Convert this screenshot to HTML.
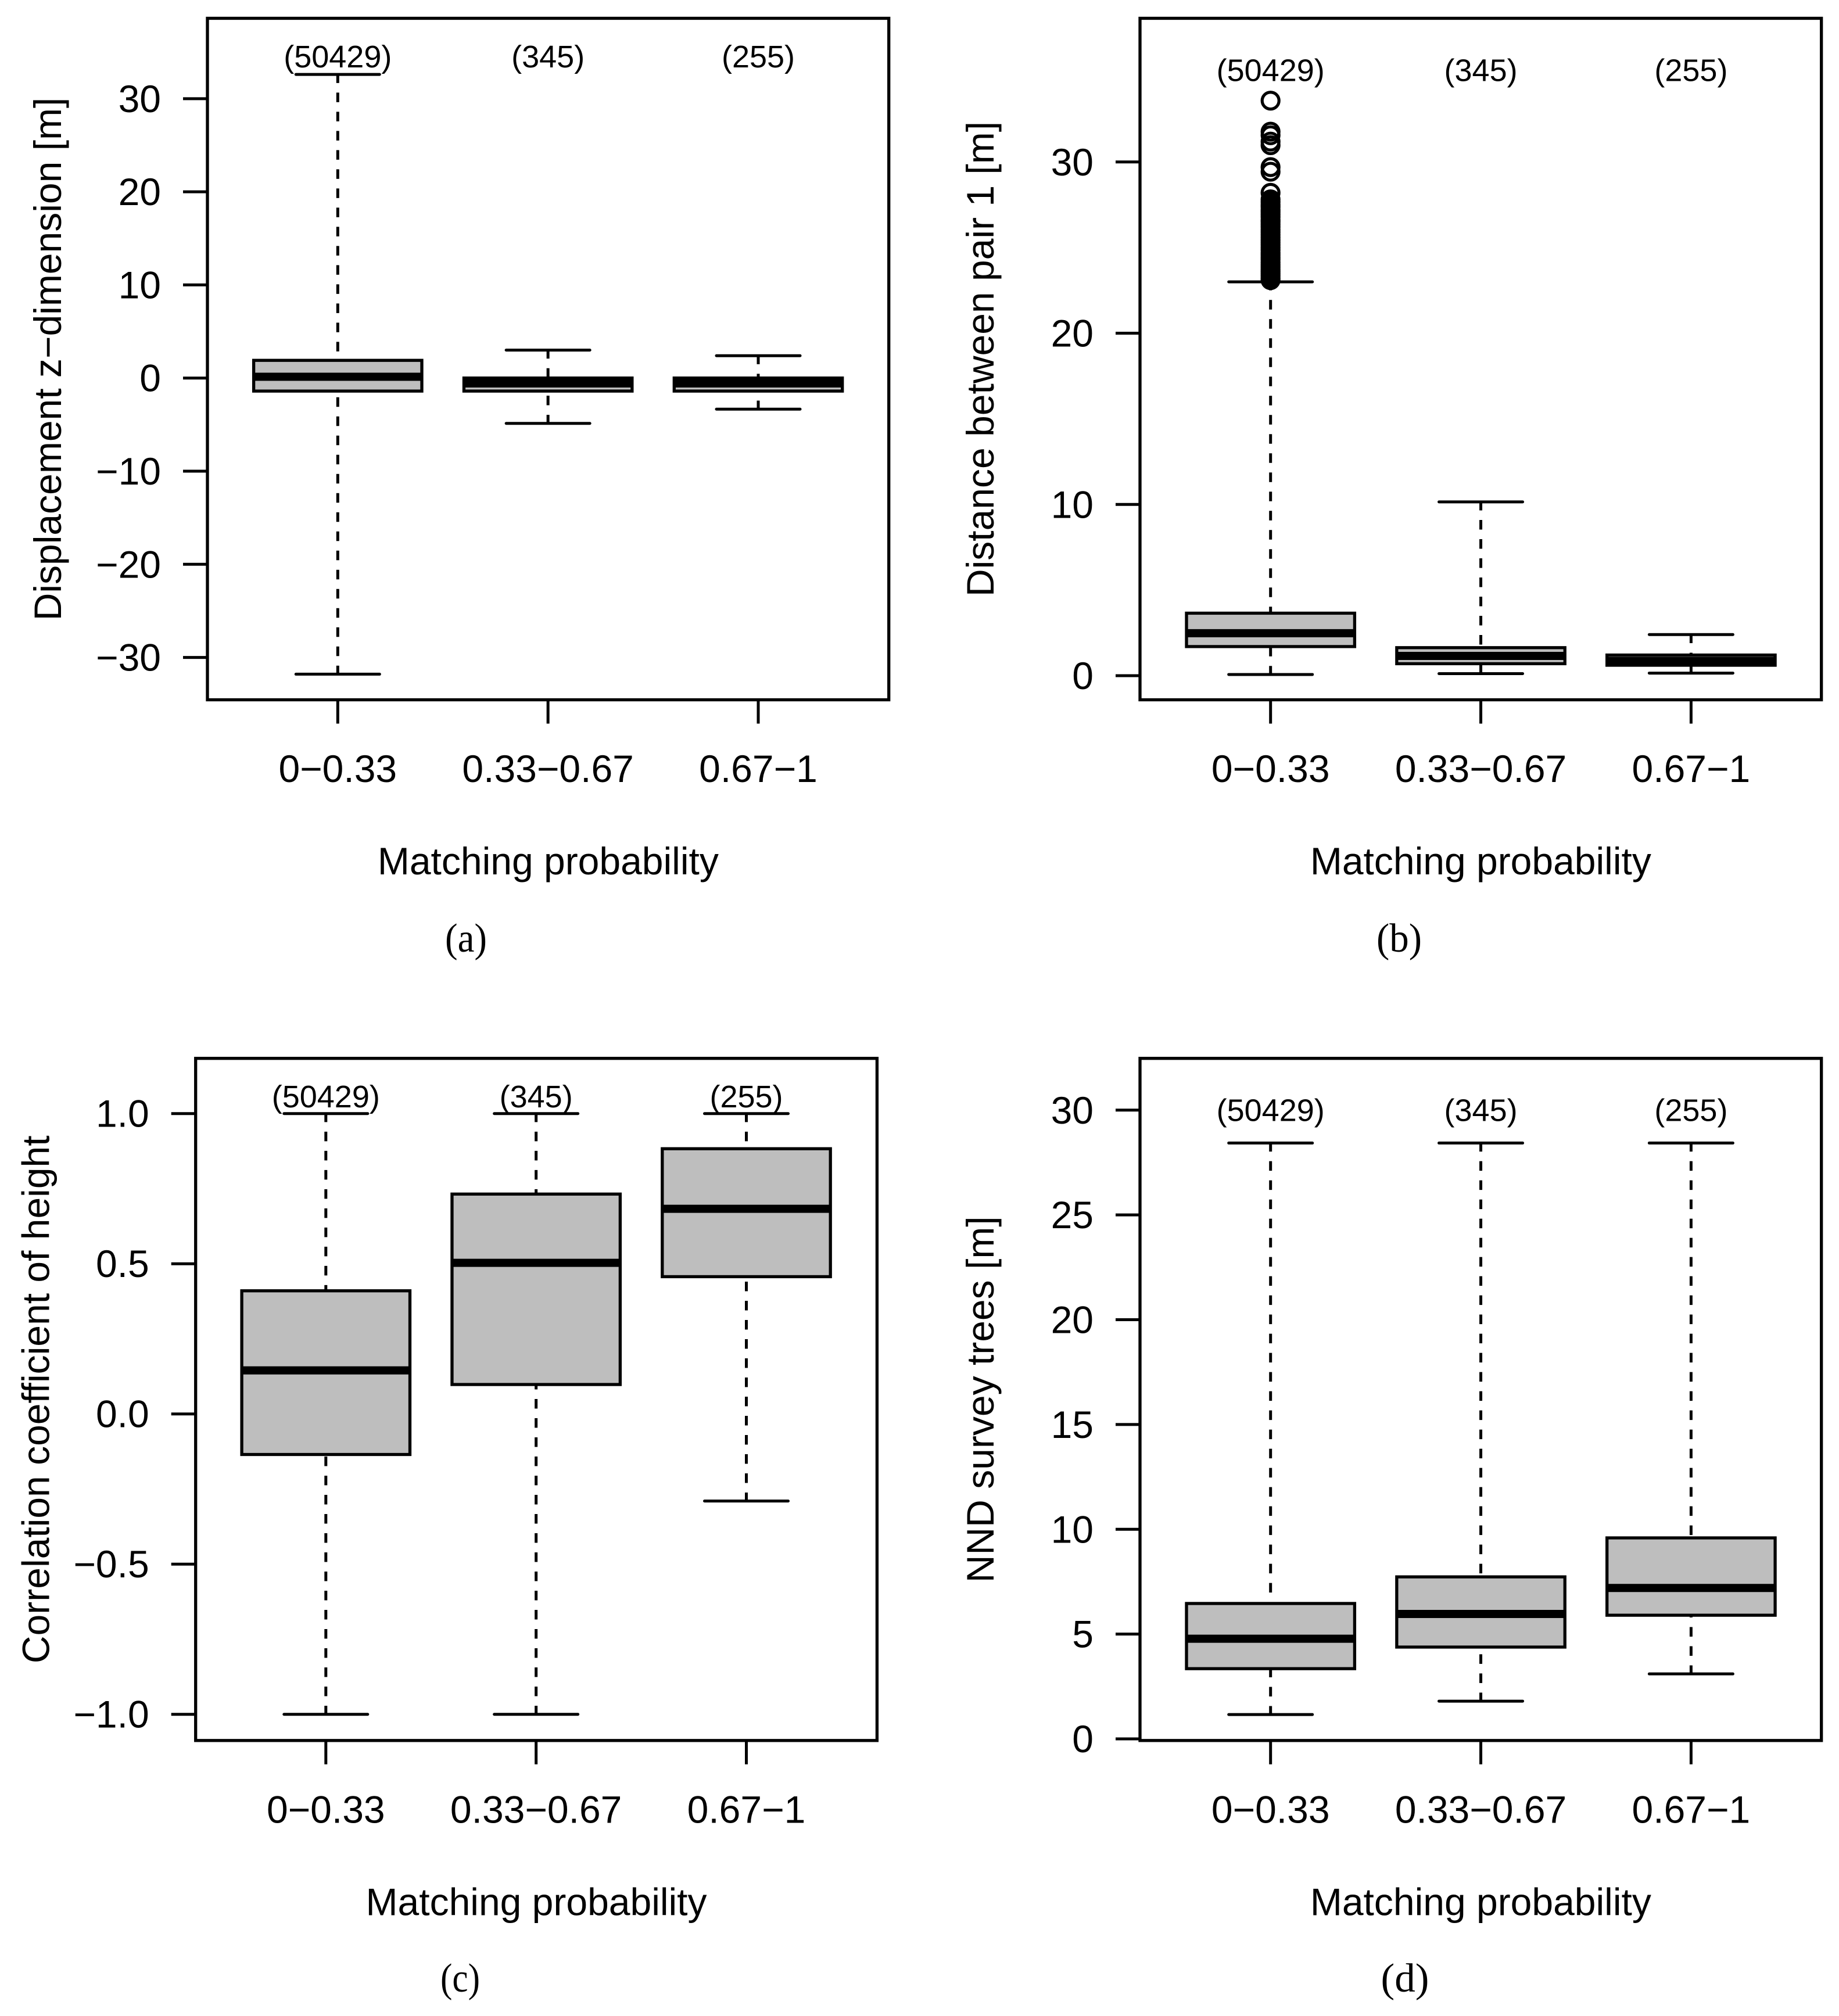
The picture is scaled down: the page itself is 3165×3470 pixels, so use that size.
<!DOCTYPE html>
<html lang="en">
<head>
<meta charset="utf-8">
<title>Boxplots by matching probability</title>
<style>
  html, body { margin: 0; padding: 0; background: #fff; }
  svg { display: block; }
  text { fill: #000; font-family: "Liberation Sans", sans-serif; }
  .caption { font-family: "Liberation Serif", serif; }
</style>
</head>
<body>
<svg id="figure" xmlns="http://www.w3.org/2000/svg" width="3165" height="3470" viewBox="0 0 3165 3470"></svg>
<script>
const categories = ['0\u22120.33', '0.33\u22120.67', '0.67\u22121'];
const counts = ['(50429)', '(345)', '(255)'];

const aTicks = [-30, -20, -10, 0, 10, 20, 30];
const aTickLabels = ['\u221230', '\u221220', '\u221210', '0', '10', '20', '30'];
const aLow = [-31.8, -4.87, -3.34];
const aQ1 = [-1.4, -1.4, -1.4];
const aMedian = [0.14, -0.58, -0.58];
const aQ3 = [1.9, 0.0, 0.0];
const aHigh = [32.6, 3.0, 2.4];

const bTicks = [0, 10, 20, 30];
const bTickLabels = ['0', '10', '20', '30'];
const bLow = [0.07, 0.12, 0.15];
const bQ1 = [1.7, 0.7, 0.61];
const bMedian = [2.48, 1.154, 0.865];
const bQ3 = [3.65, 1.636, 1.205];
const bHigh = [23.0, 10.15, 2.4];
const bOutliers = [33.58, 31.77, 31.56, 31.19, 30.98, 29.7, 29.43, 28.2,
  27.82, 27.66, 27.5, 27.37, 27.2, 27.08, 26.93, 26.8, 26.62, 26.5, 26.35, 26.2, 26.04,
  25.9, 25.75, 25.6, 25.44, 25.3, 25.16, 25.0, 24.86, 24.7, 24.57, 24.42, 24.3, 24.14,
  24.0, 23.86, 23.72, 23.6, 23.48, 23.35, 23.22, 23.1];

const cTicks = [-1, -0.5, 0, 0.5, 1];
const cTickLabels = ['\u22121.0', '\u22120.5', '0.0', '0.5', '1.0'];
const cLow = [-1, -1, -0.29];
const cQ1 = [-0.135, 0.098, 0.457];
const cMedian = [0.145, 0.503, 0.683];
const cQ3 = [0.41, 0.732, 0.883];
const cHigh = [1, 1, 1];

const dTicks = [0, 5, 10, 15, 20, 25, 30];
const dTickLabels = ['0', '5', '10', '15', '20', '25', '30'];
const dLow = [1.16, 1.8, 3.1];
const dQ1 = [3.35, 4.38, 5.9];
const dMedian = [4.78, 5.96, 7.2];
const dQ3 = [6.46, 7.73, 9.59];
const dHigh = [28.43, 28.43, 28.43];

const NS = 'http://www.w3.org/2000/svg';
const figure = document.getElementById('figure');

function make(parent, tag, attrs) {
  const el = document.createElementNS(NS, tag);
  for (const k in attrs) el.setAttribute(k, attrs[k]);
  parent.appendChild(el);
  return el;
}

function drawPanel(p) {
  const yScale = v => p.bottom - (v - p.domain[0]) * (p.bottom - p.top) / (p.domain[1] - p.domain[0]);
  const xScale = i => p.firstX + i * p.stepX;
  const midX = (p.left + p.right) / 2;
  const midY = (p.top + p.bottom) / 2;

  const g = make(figure, 'g', {});
  
  

  const line = { stroke: '#000', 'stroke-width': 5, fill: 'none' };
  const dash = { 'stroke-dasharray': '16.5 16.5', 'stroke-dashoffset': 1.8 };

  categories.forEach((cat, i) => {
    const x = xScale(i);
    const bg = make(g, 'g', {});
    
    

    const upper = make(bg, 'line', { ...line, ...dash, x1: x, x2: x, y1: yScale(p.high[i]), y2: yScale(p.q3[i]) });
    
    

    const lower = make(bg, 'line', { ...line, ...dash, x1: x, x2: x, y1: yScale(p.low[i]), y2: yScale(p.q1[i]) });
    
    

    const capHigh = make(bg, 'line', { ...line, x1: x - 72, x2: x + 72, y1: yScale(p.high[i]), y2: yScale(p.high[i]), 'stroke-linecap': 'round' });
    
    

    const capLow = make(bg, 'line', { ...line, x1: x - 72, x2: x + 72, y1: yScale(p.low[i]), y2: yScale(p.low[i]), 'stroke-linecap': 'round' });
    
    

    const rect = make(bg, 'rect', { x: x - 144.7, width: 289.4, y: yScale(p.q3[i]), height: yScale(p.q1[i]) - yScale(p.q3[i]), fill: '#bebebe', stroke: '#000', 'stroke-width': 5.3 });
    
    

    const med = make(bg, 'line', { x1: x - 144.7, x2: x + 144.7, y1: yScale(p.median[i]), y2: yScale(p.median[i]), stroke: '#000', 'stroke-width': 14 });
    
    

    const count = make(g, 'text', { x: x, y: p.countY, 'text-anchor': 'middle', 'font-size': 54 });
    count.textContent = counts[i];
    
    

    const tick = make(g, 'line', { ...line, x1: x, x2: x, y1: p.bottom, y2: p.bottom + 41 });
    
    

    const label = make(g, 'text', { x: x, y: p.bottom + 141.5, 'text-anchor': 'middle', 'font-size': 66 });
    label.textContent = cat;
    
    
  });

  (p.outliers || []).forEach(v => {
    const dot = make(g, 'circle', { cx: xScale(0), cy: yScale(v), r: 14.5, fill: 'none', stroke: '#000', 'stroke-width': 5.2 });
    
    
  });

  const frame = make(g, 'rect', { ...line, x: p.left, y: p.top, width: p.right - p.left, height: p.bottom - p.top, 'stroke-width': 5.3 });
  
  

  p.ticks.forEach((v, i) => {
    const yy = yScale(v);
    const tick = make(g, 'line', { ...line, x1: p.left - 42, x2: p.left, y1: yy, y2: yy });
    
    

    const label = make(g, 'text', { x: p.left - 80, y: yy + 23, 'text-anchor': 'end', 'font-size': 66 });
    label.textContent = p.tickLabels[i];
    
    
  });

  const yTitle = make(g, 'text', { x: 0, y: 0, 'text-anchor': 'middle', 'font-size': 66, transform: 'translate(' + (p.left - 252) + ' ' + midY + ') rotate(-90)' });
  yTitle.textContent = p.yTitle;
  
  

  const xTitle = make(g, 'text', { x: midX, y: p.bottom + 300.5, 'text-anchor': 'middle', 'font-size': 66 });
  xTitle.textContent = 'Matching probability';
  
  

  const caption = make(g, 'text', { x: p.captionX, y: p.captionY, 'text-anchor': 'middle', 'font-size': 70, class: 'caption', textLength: p.captionLength, lengthAdjust: 'spacingAndGlyphs' });
  caption.textContent = p.caption;
  
  
}

drawPanel({ id: 'a', left: 357, right: 1529.7, top: 31.5, bottom: 1204.5, domain: [-34.55, 38.63], firstX: 581.3, stepX: 361.85,
  ticks: aTicks, tickLabels: aTickLabels, low: aLow, q1: aQ1, median: aMedian, q3: aQ3, high: aHigh,
  countY: 116, yTitle: 'Displacement z\u2212dimension [m]', caption: '(a)', captionX: 802, captionY: 1638, captionLength: 72 });

drawPanel({ id: 'b', left: 1962, right: 3134.7, top: 31.5, bottom: 1204.5, domain: [-1.408, 38.39], firstX: 2186.7, stepX: 361.85,
  ticks: bTicks, tickLabels: bTickLabels, low: bLow, q1: bQ1, median: bMedian, q3: bQ3, high: bHigh, outliers: bOutliers,
  countY: 139.5, yTitle: 'Distance between pair 1 [m]', caption: '(b)', captionX: 2408, captionY: 1638, captionLength: 78 });

drawPanel({ id: 'c', left: 336.7, right: 1509.4, top: 1821.7, bottom: 2995.8, domain: [-1.0872, 1.1838], firstX: 560.8, stepX: 361.85,
  ticks: cTicks, tickLabels: cTickLabels, low: cLow, q1: cQ1, median: cMedian, q3: cQ3, high: cHigh,
  countY: 1906, yTitle: 'Correlation coefficient of height', caption: '(c)', captionX: 792, captionY: 3428, captionLength: 68 });

drawPanel({ id: 'd', left: 1962, right: 3134.7, top: 1821.7, bottom: 2995.8, domain: [-0.0776, 32.47], firstX: 2186.7, stepX: 361.85,
  ticks: dTicks, tickLabels: dTickLabels, low: dLow, q1: dQ1, median: dMedian, q3: dQ3, high: dHigh,
  countY: 1929.5, yTitle: 'NND survey trees [m]', caption: '(d)', captionX: 2418, captionY: 3428, captionLength: 83 });
</script>
</body>
</html>
